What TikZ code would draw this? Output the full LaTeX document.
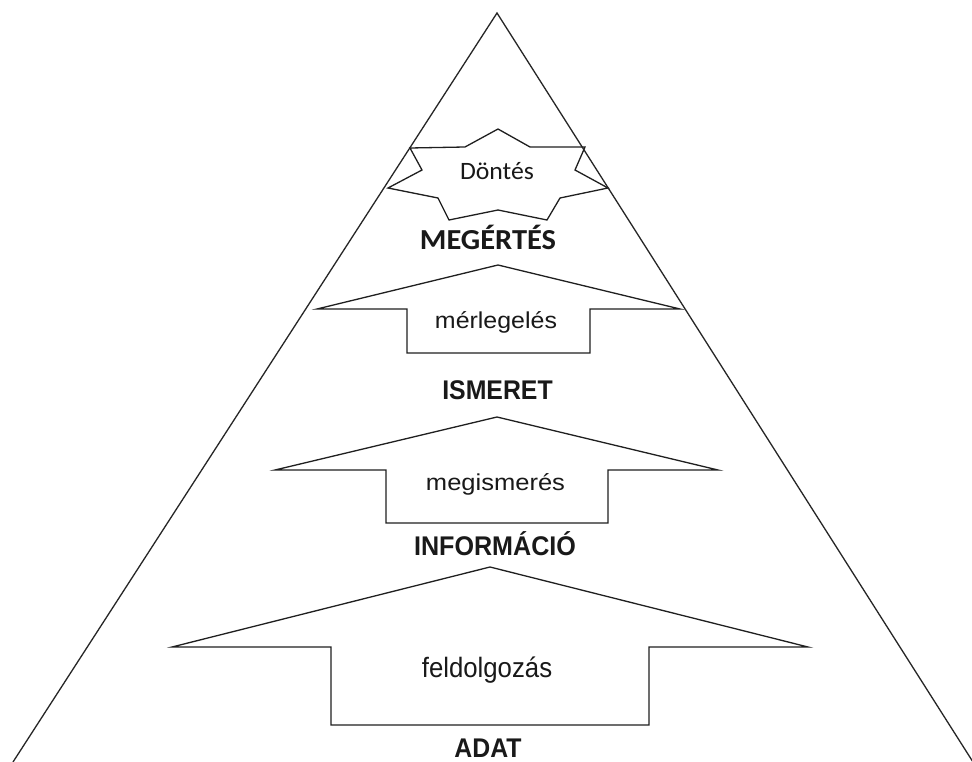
\documentclass[tikz,border=0pt]{standalone}
\usepackage{fontspec}
\setmainfont{Liberation Sans}
\newfontfamily\calib{Carlito}
\tikzset{
  outline/.style={draw=black!88, line width=1.3pt, line join=miter, fill=white},
  edge/.style={draw=black!85, line width=1.3pt, line join=miter},
  lbl/.style={inner sep=0pt, anchor=base, text=black!90},
}
\newcommand{\txt}[3]{\scalebox{#1}[1]{\fontsize{#2}{#2}\selectfont #3}}
\begin{document}
\begin{tikzpicture}[x=1pt, y=-1pt]
\fill[white] (0,0) rectangle (972,762);
\useasboundingbox (0,0) rectangle (972,762);

% star (Döntés)
\path[outline] (498,129) -- (530,147) -- (585,147) -- (575,170) -- (608,188)
  -- (560,198) -- (547,220) -- (498,210) -- (449,220) -- (438,198)
  -- (388,188) -- (422,170) -- (410,148) -- (465,147) -- cycle;

% arrow 1 (mérlegelés)
\path[outline] (498,265) -- (680,309) -- (590,309) -- (590,353) -- (407,353)
  -- (407,309) -- (317,309) -- cycle;

% arrow 2 (megismerés)
\path[outline] (497,417) -- (718,470) -- (608,470) -- (608,523) -- (386,523)
  -- (386,470) -- (275,470) -- cycle;

% arrow 3 (feldolgozás)
\path[outline] (490,567) -- (808,647) -- (649,647) -- (649,725) -- (331,725)
  -- (331,647) -- (172,647) -- cycle;

% pyramid sides
\coordinate (apex) at (497,13);
\coordinate (bl) at (13,762);
\coordinate (br) at (973,762);
\draw[edge] (bl) -- (apex) -- (br);

% labels
\node[lbl] (dontes) at (497,180) {\calib\txt{1.03}{25}{Döntés}};
\node[lbl] (megertes) at (488,250) {\calib\bfseries\txt{1.05}{29}{MEGÉRTÉS}};
\node[lbl] (merlegeles) at (496,328) {\txt{1.085}{23}{mérlegelés}};
\node[lbl] (ismeret) at (497.5,399) {\bfseries\txt{0.92}{27}{ISMERET}};
\node[lbl] (megismeres) at (495.5,490) {\txt{1.11}{23}{megismerés}};
\node[lbl] (informacio) at (495,555) {\bfseries\txt{0.93}{27}{INFORMÁCIÓ}};
\node[lbl] (feldolgozas) at (487,677) {\txt{0.92}{28}{feldolgozás}};
\node[lbl] (adat) at (488,757) {\bfseries\txt{0.92}{27}{ADAT}};
\end{tikzpicture}
\end{document}
